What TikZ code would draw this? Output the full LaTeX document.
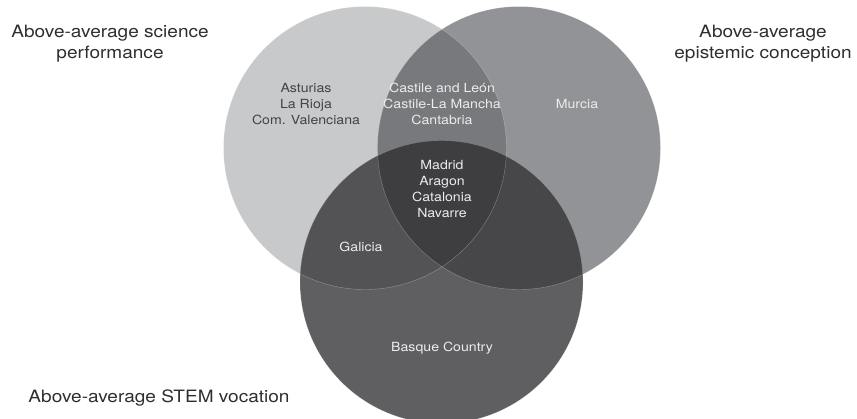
\documentclass[tikz,border=0pt]{standalone}
\usepackage{fontspec}
\setmainfont[FakeStretch=1.12]{TeX Gyre Heros}
\definecolor{cL}{HTML}{C8C9CB}
\definecolor{cR}{HTML}{929396}
\definecolor{cB}{HTML}{5F5F61}
\definecolor{cLR}{HTML}{78797C}
\definecolor{cLB}{HTML}{535356}
\definecolor{cRB}{HTML}{47474A}
\definecolor{cLRB}{HTML}{3E3E40}
\definecolor{txtdark}{HTML}{2E2E30}
\definecolor{txtlight}{HTML}{ECECEC}
\tikzset{
  outer/.style={align=center, font=\fontsize{17}{21}\selectfont, text=txtdark, inner sep=0pt},
  inlab/.style={align=center, font=\fontsize{12.6}{16}\selectfont, text=txtlight, inner sep=0pt},
  inlabdark/.style={inlab, text=txtdark!90},
  rim/.style={draw=white, draw opacity=0.35, line width=0.4pt}
}
\begin{document}
\begin{tikzpicture}[x=1pt,y=-1pt]
\useasboundingbox (0,0) rectangle (857,418);
\coordinate (cl) at (365,148);
\coordinate (cr) at (519,148);
\coordinate (cb) at (441.5,282);
\def\rad{141.5pt}
\fill[cL] (cl) circle (\rad);
\fill[cR] (cr) circle (\rad);
\fill[cB] (cb) circle (\rad);
\begin{scope}
  \clip (cl) circle (\rad);
  \fill[cLR] (cr) circle (\rad);
  \fill[cLB] (cb) circle (\rad);
\end{scope}
\begin{scope}
  \clip (cr) circle (\rad);
  \fill[cRB] (cb) circle (\rad);
\end{scope}
\begin{scope}
  \clip (cl) circle (\rad);
  \clip (cr) circle (\rad);
  \fill[cLRB] (cb) circle (\rad);
\end{scope}
\draw[rim] (cl) circle (\rad);
\draw[rim] (cr) circle (\rad);
\draw[rim] (cb) circle (\rad);

\node[outer] (tl) at (110,44) {Above-average science\\performance};
\node[outer] (tr) at (763,44) {Above-average\\epistemic conception};
\node[outer] (tb) at (159,398) {Above-average STEM vocation};

\node[inlabdark] (nl) at (306,104) {Asturias\\La Rioja\\Com. Valenciana};
\node[inlab] (nlr) at (442,104) {Castile and León\\Castile-La Mancha\\Cantabria};
\node[inlab] (nr) at (577,104) {Murcia};
\node[inlab] (nc) at (442,189) {Madrid\\Aragon\\Catalonia\\Navarre};
\node[inlab] (nlb) at (361,247) {Galicia};
\node[inlab] (nb) at (442,348) {Basque Country};
\end{tikzpicture}
\end{document}
